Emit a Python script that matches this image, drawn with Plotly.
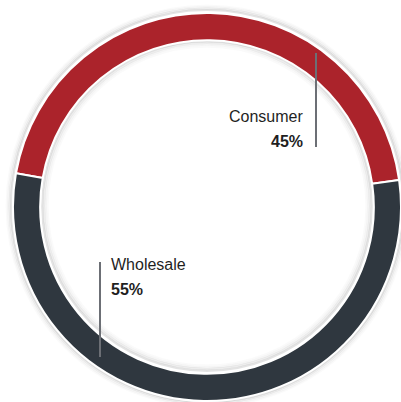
import plotly.graph_objects as go

# Revenue split by channel
segments = ["Consumer", "Wholesale"]
shares = [45, 55]
slice_colors = ["#ab232b", "#2f373f"]

W, H = 401, 402
cx, cy, R = 207, 206, 194          # ring centre / outer radius in px
hole = 0.86

fig = go.Figure()
fig.add_trace(go.Pie(
    labels=segments,
    values=shares,
    sort=False,
    direction="clockwise",
    rotation=-80,
    hole=hole,
    marker=dict(colors=slice_colors, line=dict(color="white", width=2)),
    textinfo="none",
    hoverinfo="skip",
    showlegend=False,
    domain=dict(x=[(cx - R) / W, 1], y=[0, 1 - (cy - R) / H]),
))


def circle(r, color, width):
    return dict(
        type="circle", xref="paper", yref="paper", layer="below",
        x0=(cx - r) / W, x1=(cx + r) / W,
        y0=1 - (cy + r) / H, y1=1 - (cy - r) / H,
        line=dict(color=color, width=width), fillcolor="rgba(0,0,0,0)",
    )


shapes = []
# soft shadow around the outer edge and inside the hole
r_in = R * hole
for k, a in enumerate([0.11, 0.07, 0.04, 0.02]):
    shapes.append(circle(R + 2 + k * 1.5, f"rgba(0,0,0,{a})", 2))
    shapes.append(circle(r_in - 2 - k * 1.8, f"rgba(0,0,0,{a})", 2.2))

# label leader lines
line_color = "#6c6f75"
shapes.append(dict(type="line", xref="paper", yref="paper",
                   x0=316 / W, x1=316 / W, y0=1 - 53 / H, y1=1 - 147 / H,
                   line=dict(color=line_color, width=2)))
shapes.append(dict(type="line", xref="paper", yref="paper",
                   x0=100 / W, x1=100 / W, y0=1 - 262 / H, y1=1 - 357 / H,
                   line=dict(color=line_color, width=2)))

font = dict(family="Liberation Sans, Arial, sans-serif", size=16, color="#1f1f1f")
label_pos = {
    "Consumer": dict(x=305, y_name=116.5, y_val=141, anchor="right"),
    "Wholesale": dict(x=109, y_name=264.5, y_val=289, anchor="left"),
}
annotations = []
for name, val in zip(segments, shares):
    p = label_pos[name]
    annotations.append(dict(x=p["x"] / W, y=1 - p["y_name"] / H, xref="paper", yref="paper",
                            text=name, showarrow=False, xanchor=p["anchor"],
                            yanchor="middle", font=font))
    annotations.append(dict(x=p["x"] / W, y=1 - p["y_val"] / H, xref="paper", yref="paper",
                            text=f"<b>{val}%</b>", showarrow=False, xanchor=p["anchor"],
                            yanchor="middle", font=font))

fig.update_layout(
    width=W, height=H,
    margin=dict(l=0, r=0, t=0, b=0),
    paper_bgcolor="white", plot_bgcolor="white",
    shapes=shapes, annotations=annotations,
)

fig.write_html("out.html", config={"displayModeBar": False})
